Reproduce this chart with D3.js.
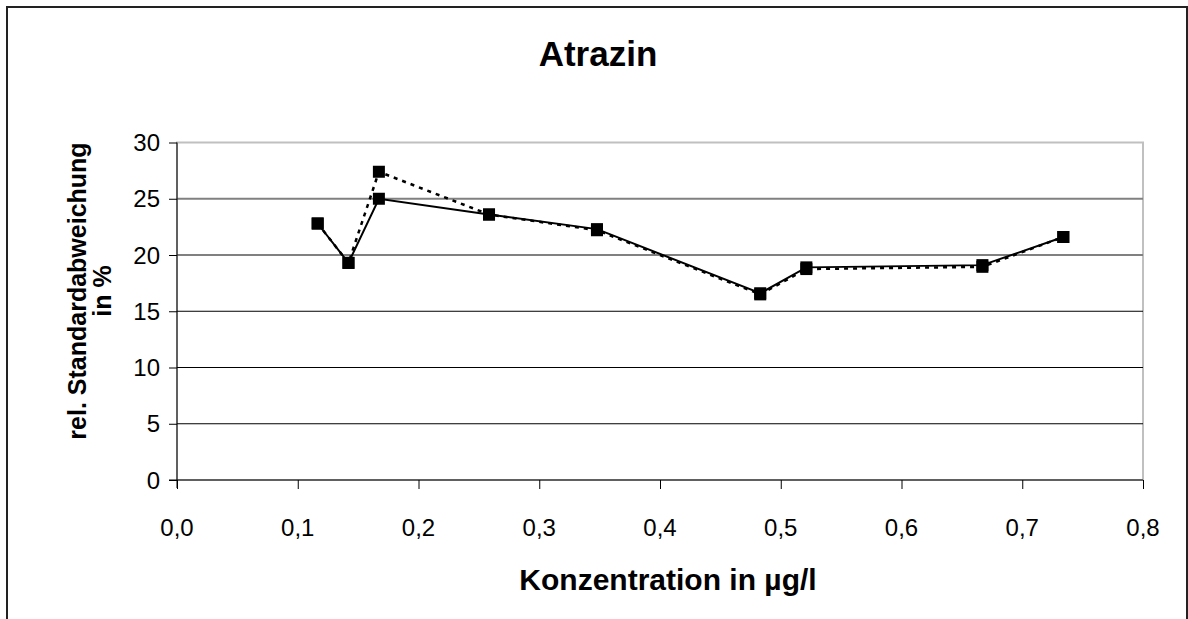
<!DOCTYPE html>
<html>
	<head>
		<meta charset="UTF-8">
        <title>Atrazin</title>
        <script src="https://d3js.org/d3.v7.min.js"></script>
        <style>
            body { margin: 0; background: #fff; }
            text { font-family: "Liberation Sans", Arial, sans-serif; }
        </style>
	</head>
	<body>
        <div id="my_dataviz"></div>
        <script>
            // values
            var konzentration = [0.1165, 0.142, 0.1672, 0.2584, 0.3478, 0.483, 0.5212, 0.667, 0.734];
            var rsdSolid  = [22.8, 19.3, 25.0, 23.6, 22.3, 16.6, 18.9, 19.1, 21.6];
            var rsdDotted = [22.8, 19.3, 27.4, 23.6, 22.2, 16.5, 18.75, 18.95, 21.6];
            var xTicks = [0, 0.1, 0.2, 0.3, 0.4, 0.5, 0.6, 0.7, 0.8];
            var yTicks = [0, 5, 10, 15, 20, 25, 30];

            var W = 1188, H = 619;
            var plot = {left: 177, right: 1143, top: 142.5, bottom: 480};

            var svg = d3.select("#my_dataviz")
            .append("svg")
            .attr("width", W)
            .attr("height", H);

            // outer chart frame
            svg.append("rect")
            .attr("x", 7).attr("y", 7)
            .attr("width", 1180).attr("height", 700)
            .attr("fill", "#fff")
            .attr("stroke", "#222")
            .attr("stroke-width", 2);

            var x = d3.scaleLinear()
            .domain([0, 0.8])
            .range([plot.left, plot.right]);

            var y = d3.scaleLinear()
            .domain([0, 30])
            .range([plot.bottom, plot.top]);

            // plot area border (grey)
            svg.append("rect")
            .attr("x", plot.left).attr("y", plot.top)
            .attr("width", plot.right - plot.left)
            .attr("height", plot.bottom - plot.top)
            .attr("fill", "none")
            .attr("stroke", "#c0c0c0")
            .attr("stroke-width", 2);

            // gridlines
            svg.selectAll(".grid")
            .data(yTicks.filter(function(d) { return d > 0 && d < 30; }))
            .enter().append("line")
            .attr("x1", plot.left).attr("x2", plot.right)
            .attr("y1", function(d) { return y(d); })
            .attr("y2", function(d) { return y(d); })
            .attr("stroke", function(d) { return d >= 20 ? "#808080" : "#000"; })
            .attr("stroke-width", function(d) { return d >= 20 ? 2 : 1; });

            // Y axis
            var yAxis = svg.append("g")
            .attr("transform", "translate(" + plot.left + ",0)")
            .call(d3.axisLeft(y).tickValues(yTicks).tickSize(8).tickFormat(""));
            yAxis.select(".domain").attr("stroke", "#000").attr("d", "M0," + (plot.top) + "V" + (plot.bottom + 8));
            yAxis.selectAll(".tick line").attr("stroke", "#000");

            svg.selectAll(".ylab")
            .data(yTicks)
            .enter().append("text")
            .attr("x", 160)
            .attr("y", function(d) { return y(d); })
            .attr("text-anchor", "end")
            .attr("dy", "0.36em")
            .attr("font-size", 24)
            .text(function(d) { return d; });

            // X axis
            var xAxis = svg.append("g")
            .attr("transform", "translate(0," + plot.bottom + ")")
            .call(d3.axisBottom(x).tickValues(xTicks).tickSize(9).tickFormat(""));
            xAxis.select(".domain").attr("stroke", "#000").attr("d", "M" + (plot.left - 8) + ",0H" + plot.right);
            xAxis.selectAll(".tick line").attr("stroke", "#000");

            svg.selectAll(".xlab")
            .data(xTicks)
            .enter().append("text")
            .attr("x", function(d) { return x(d); })
            .attr("y", 536)
            .attr("text-anchor", "middle")
            .attr("font-size", 24)
            .text(function(d) { return d3.format(".1f")(d).replace(".", ","); });

            // titles
            svg.append("text")
            .attr("x", 598).attr("y", 66)
            .attr("text-anchor", "middle")
            .attr("font-size", 35)
            .attr("font-weight", "bold")
            .text("Atrazin");

            svg.append("text")
            .attr("x", 668).attr("y", 590)
            .attr("text-anchor", "middle")
            .attr("font-size", 30)
            .attr("font-weight", "bold")
            .text("Konzentration in µg/l");

            svg.append("text")
            .attr("transform", "translate(86,291) rotate(-90)")
            .attr("text-anchor", "middle")
            .attr("font-size", 25)
            .attr("font-weight", "bold")
            .text("rel. Standardabweichung");

            svg.append("text")
            .attr("transform", "translate(111,291) rotate(-90)")
            .attr("text-anchor", "middle")
            .attr("font-size", 25)
            .attr("font-weight", "bold")
            .text("in %");

            // the two series
            var line = d3.line()
            .x(function(d) { return x(d[0]); })
            .y(function(d) { return y(d[1]); });

            var dotted = d3.zip(konzentration, rsdDotted);
            var solid = d3.zip(konzentration, rsdSolid);

            svg.append("path")
            .datum(dotted)
            .attr("fill", "none")
            .attr("stroke", "#000")
            .attr("stroke-width", 2.5)
            .attr("stroke-dasharray", "4,5")
            .attr("d", line);

            svg.append("path")
            .datum(solid)
            .attr("fill", "none")
            .attr("stroke", "#000")
            .attr("stroke-width", 2)
            .attr("d", line);

            var s = 12;
            svg.selectAll(".mark")
            .data(dotted.concat(solid))
            .enter().append("rect")
            .attr("x", function(d) { return x(d[0]) - s / 2; })
            .attr("y", function(d) { return y(d[1]) - s / 2; })
            .attr("width", s)
            .attr("height", s)
            .attr("fill", "#000");
        </script>
	</body>
</html>
